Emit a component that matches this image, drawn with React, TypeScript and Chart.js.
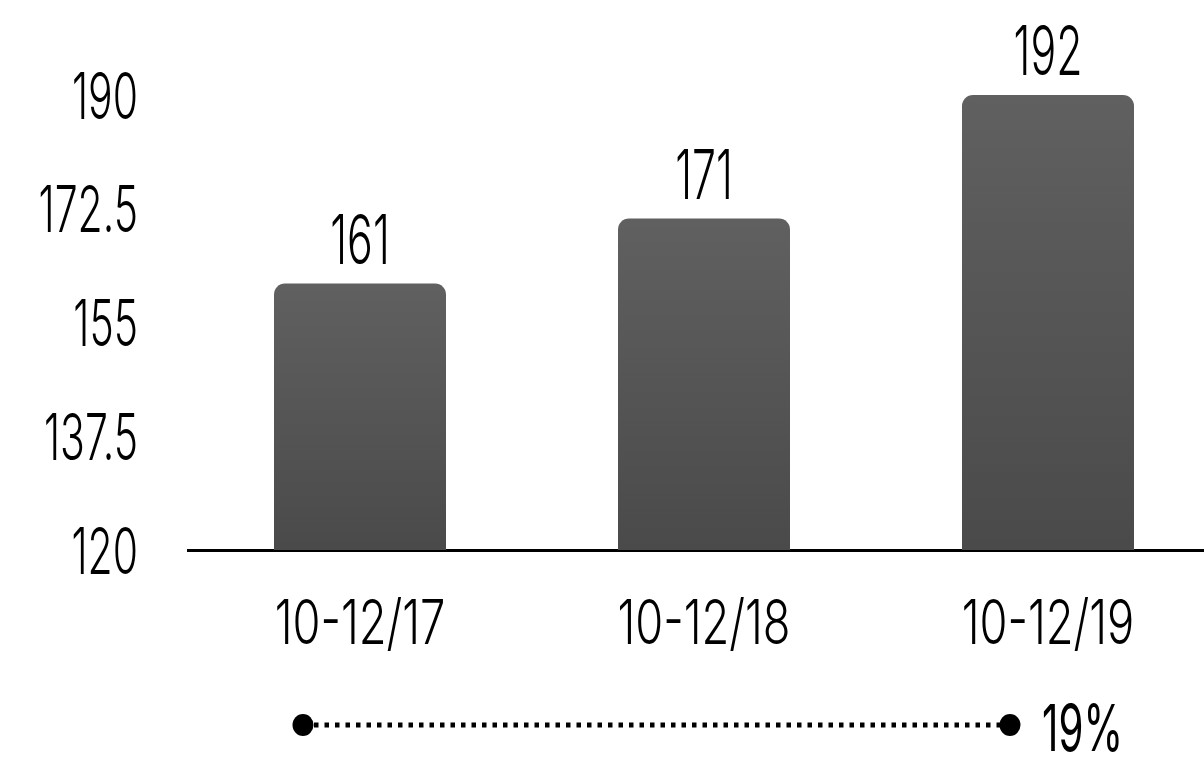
import React, { useEffect, useRef } from "react";
import { Chart, registerables } from "chart.js";

Chart.register(...registerables);

const categories = ["10-12/17", "10-12/18", "10-12/19"];
const values = [161, 171, 192];
const yTicks = [120, 137.5, 155, 172.5, 190];
const Y_MIN = 120;
const Y_MAX = 190;

const LIGHT = '"Inter"';

function drawText(
  ctx: CanvasRenderingContext2D,
  text: string,
  x: number,
  cy: number,
  align: "left" | "center" | "right",
  size: number,
  weight: number,
  family: string,
  sx: number,
  mode: "center" | "baseline"
) {
  ctx.save();
  ctx.font = `${weight} ${size}px ${family}`;
  ctx.fillStyle = "#000";
  ctx.textAlign = "left";
  ctx.textBaseline = "alphabetic";
  const m = ctx.measureText(text);
  const w = m.width * sx;
  const asc = m.actualBoundingBoxAscent;
  let left = x;
  if (align === "center") left = x - w / 2;
  else if (align === "right") left = x - w;
  const by = mode === "center" ? cy + asc / 2 : cy;
  ctx.translate(left, by);
  ctx.scale(sx, 1);
  ctx.fillText(text, 0, 0);
  ctx.restore();
}

const labelsPlugin = {
  id: "labelsPlugin",
  afterDraw(chart: any) {
    const ctx: CanvasRenderingContext2D = chart.ctx;
    const xs = chart.scales.x;
    const ys = chart.scales.y;
    yTicks.forEach((t) => {
      drawText(ctx, String(t), 138, ys.getPixelForValue(t), "right", 65, 300, LIGHT, 0.63, "center");
    });
    categories.forEach((c, i) => {
      drawText(ctx, c, xs.getPixelForValue(i), 620, "center", 62, 300, LIGHT, 0.73, "center");
    });
    const meta = chart.getDatasetMeta(0);
    meta.data.forEach((bar: any, i: number) => {
      drawText(ctx, String(values[i]), bar.x, bar.y - 20, "center", 68, 300, LIGHT, 0.63, "baseline");
    });
    const growth = Math.round(((values[values.length - 1] - values[0]) / values[0]) * 100);
    const x1 = 303;
    const x2 = 1010;
    const ly = 725;
    ctx.save();
    ctx.strokeStyle = "#000";
    ctx.lineWidth = 5;
    ctx.setLineDash([4.5, 6]);
    ctx.beginPath();
    ctx.moveTo(x1 + 11, ly);
    ctx.lineTo(x2 - 10, ly);
    ctx.stroke();
    ctx.setLineDash([]);
    ctx.fillStyle = "#000";
    [x1, x2].forEach((cx) => {
      ctx.beginPath();
      ctx.ellipse(cx, ly, 10.5, 11, 0, 0, Math.PI * 2);
      ctx.fill();
    });
    ctx.restore();
    drawText(ctx, `${growth}%`, 1042, 726, "left", 64, 400, LIGHT, 0.63, "center");
  },
};

export default function App() {
  const ref = useRef<HTMLCanvasElement | null>(null);
  useEffect(() => {
    document.body.style.margin = "0";
    document.body.style.overflow = "hidden";
    const canvas = ref.current!;
    const chart = new Chart(canvas, {
      type: "bar",
      data: {
        labels: categories,
        datasets: [
          {
            data: values.map((v) => Math.min(v, Y_MAX)),
            backgroundColor: (c: any) => {
              const ch = c.chart;
              const area = ch.chartArea;
              if (!area || c.dataIndex === undefined) return "#555";
              const ys = ch.scales.y;
              const v = Math.min(values[c.dataIndex], Y_MAX);
              const top = ys.getPixelForValue(v);
              const bottom = ys.getPixelForValue(Y_MIN);
              const g = ch.ctx.createLinearGradient(0, top, 0, bottom);
              g.addColorStop(0, "#606060");
              g.addColorStop(1, "#4a4a4a");
              return g;
            },
            borderWidth: 0,
            borderRadius: { topLeft: 11, topRight: 11, bottomLeft: 0, bottomRight: 0 },
            borderSkipped: "bottom",
            barPercentage: 0.5,
            categoryPercentage: 1,
          },
        ],
      },
      options: {
        responsive: false,
        animation: false,
        layout: { padding: { left: 188, top: 95, right: 0, bottom: 214 } },
        scales: {
          x: {
            type: "category",
            offset: true,
            grid: { display: false },
            ticks: { display: false },
            border: { display: true, color: "#000", width: 3 },
            afterFit: (s: any) => {
              s.height = 0;
            },
          },
          y: {
            min: Y_MIN,
            max: Y_MAX,
            grid: { display: false },
            ticks: { display: false },
            border: { display: false },
            afterFit: (s: any) => {
              s.width = 0;
            },
          },
        },
        plugins: {
          legend: { display: false },
          tooltip: { enabled: false },
        },
      },
      plugins: [labelsPlugin],
    } as any);
    return () => chart.destroy();
  }, []);
  return (
    <div style={{ position: "fixed", left: 0, top: 0, width: 1220, height: 764, background: "#fff" }}>
      <canvas ref={ref} width={1220} height={764} style={{ display: "block" }} />
    </div>
  );
}
